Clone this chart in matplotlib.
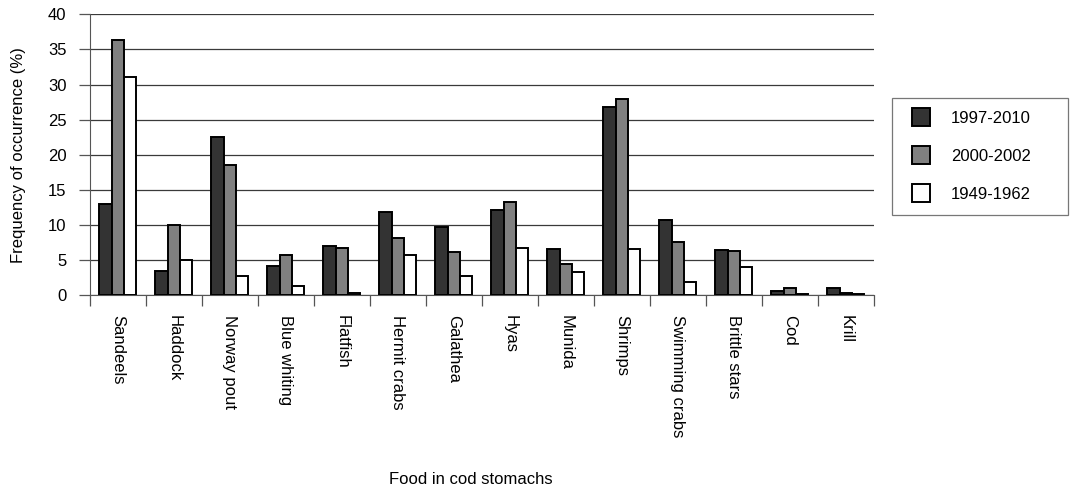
import numpy as np
import matplotlib.pyplot as plt
from matplotlib.lines import Line2D

plt.rcParams["font.family"] = ["Liberation Sans", "DejaVu Sans"]
plt.rcParams["font.size"] = 12

# データ
foods = ["Sandeels", "Haddock", "Norway pout", "Blue whiting", "Flatfish",
         "Hermit crabs", "Galathea", "Hyas", "Munida", "Shrimps",
         "Swimming crabs", "Brittle stars", "Cod", "Krill"]
series_names = ["1997-2010", "2000-2002", "1949-1962"]
v_1997_2010 = [13.0, 3.5, 22.5, 4.2, 7.0, 11.9, 9.8, 12.1, 6.6, 26.8, 10.8, 6.5, 0.7, 1.05]
v_2000_2002 = [36.4, 10.0, 18.5, 5.7, 6.8, 8.2, 6.2, 13.3, 4.45, 28.0, 7.6, 6.35, 1.1, 0.38]
v_1949_1962 = [31.0, 5.1, 2.8, 1.3, 0.35, 5.7, 2.75, 6.8, 3.4, 6.6, 1.85, 4.1, 0.25, 0.25]
colors = ["#333333", "#808080", "#ffffff"]

fig = plt.figure(figsize=(10.71, 4.90), dpi=100)
ax = fig.add_axes([0.084, 0.397, 0.732, 0.574])

x = np.arange(len(foods))
w = 0.22
for i, vals in enumerate([v_1997_2010, v_2000_2002, v_1949_1962]):
    ax.bar(x + (i - 1) * w, vals, width=w, color=colors[i], edgecolor="black",
           linewidth=1.4, zorder=3)

ax.set_xlim(-0.5, len(foods) - 0.5)
ax.set_ylim(0, 40)
ax.set_yticks(np.arange(0, 41, 5))
ax.yaxis.grid(True, color="#3a3a3a", linewidth=0.9, zorder=0)

# 目盛りはカテゴリの境界に
ax.set_xticks(np.arange(-0.5, len(foods), 1.0))
ax.set_xticklabels([])
ax.set_xticks(x, minor=True)
ax.set_xticklabels(foods, minor=True, rotation=-90, va="top", ha="center")
ax.tick_params(axis="x", which="minor", length=0, pad=14)
ax.tick_params(axis="x", which="major", length=8, width=0.9, color="#555555")
ax.tick_params(axis="y", length=8, width=0.9, color="#555555", pad=9)

for s in ["top", "right"]:
    ax.spines[s].set_visible(False)
ax.spines["left"].set_color("#555555")
ax.spines["bottom"].set_color("#555555")

ax.set_ylabel("Frequency of occurrence (%)", labelpad=16)
fig.text(0.44, 0.022, "Food in cod stomachs", ha="center", va="center")

# 凡例（四角マーカー）
handles = [Line2D([], [], linestyle="none", marker="s", markersize=12.5,
                  markerfacecolor=c, markeredgecolor="black", markeredgewidth=1.4)
           for c in colors]
leg = fig.legend(handles, series_names, loc="upper left", mode="expand",
                 bbox_to_anchor=(0.833, 0.8, 0.164, 0.0), frameon=True,
                 fancybox=False, edgecolor="#555555", handlelength=2.0,
                 handletextpad=0.78, labelspacing=1.4, borderpad=0.75,
                 borderaxespad=0, fontsize=12)
leg.get_frame().set_linewidth(0.9)

plt.savefig("out.png", dpi=100)
